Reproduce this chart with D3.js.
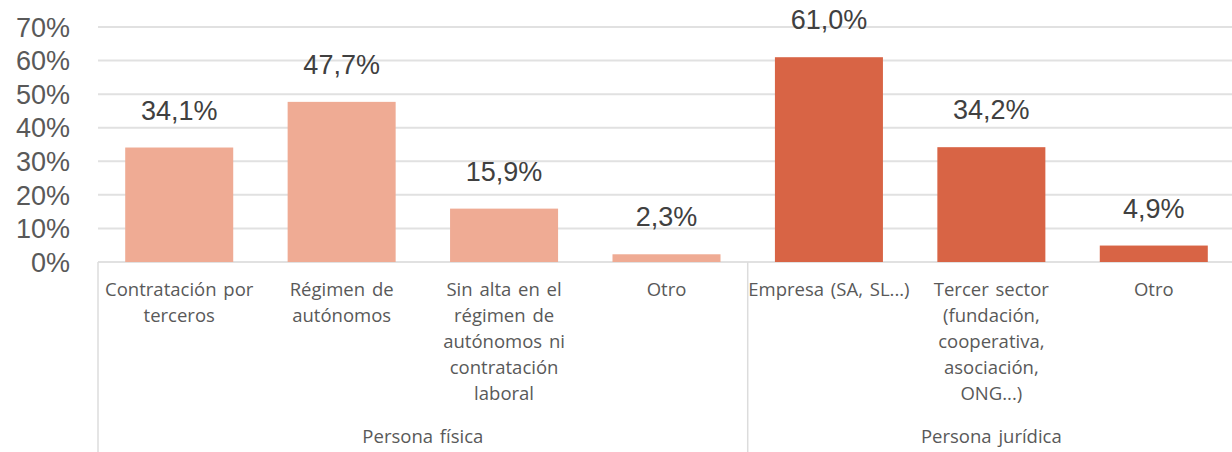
<!DOCTYPE html>
<html lang="es">
<head>
  <meta charset="UTF-8">
  <title>Persona física / Persona jurídica</title>
  <script src="https://d3js.org/d3.v7.min.js"></script>
  <style>
    body { margin: 0; background: #fff; }
    .ytick { font-family: "Liberation Sans", Arial, sans-serif; font-size: 27px; fill: #595959; }
    .value { font-family: "Liberation Sans", Arial, sans-serif; font-size: 27px; fill: #404040; text-anchor: middle; }
    .cat { font-family: "Open Sans", sans-serif; font-size: 18.5px; fill: #595959; text-anchor: middle; word-spacing: 2px; }
  </style>
</head>
<body>
  <div id="chart"></div>
  <script>
    // datos
    const categories = [
      ["Contratación por", "terceros"],
      ["Régimen de", "autónomos"],
      ["Sin alta en el", "régimen de", "autónomos ni", "contratación", "laboral"],
      ["Otro"],
      ["Empresa (SA, SL...)"],
      ["Tercer sector", "(fundación,", "cooperativa,", "asociación,", "ONG...)"],
      ["Otro"]
    ];
    const values = [34.1, 47.7, 15.9, 2.3, 61.0, 34.2, 4.9];
    const groupOf = [0, 0, 0, 0, 1, 1, 1];
    const groups = ["Persona física", "Persona jurídica"];
    const groupColors = ["#EFAB94", "#D86445"];
    const yTicks = [0, 10, 20, 30, 40, 50, 60, 70];

    const W = 1232, H = 452;
    const plotLeft = 98, plotRight = 1235, plotTop = 27, plotBottom = 262;

    const svg = d3.select("#chart").append("svg")
      .attr("width", W).attr("height", H);

    const x = d3.scaleBand()
      .domain(d3.range(categories.length))
      .range([plotLeft, plotRight])
      .paddingInner(0.335)
      .paddingOuter(0.1675);

    const y = d3.scaleLinear().domain([0, 70]).range([plotBottom, plotTop]);

    // gridlines
    svg.append("g").selectAll("line").data(yTicks).enter().append("line")
      .attr("x1", plotLeft).attr("x2", plotRight)
      .attr("y1", d => y(d)).attr("y2", d => y(d))
      .attr("stroke", "#e1e1e1").attr("stroke-width", 2);

    // y axis labels
    svg.append("g").selectAll("text").data(yTicks).enter().append("text")
      .attr("class", "ytick")
      .attr("x", 70).attr("y", d => y(d))
      .attr("dy", "0.36em")
      .attr("text-anchor", "end")
      .text(d => d + "%");

    // bars
    svg.append("g").selectAll("rect").data(values).enter().append("rect")
      .attr("x", (d, i) => x(i))
      .attr("width", x.bandwidth())
      .attr("y", d => y(d))
      .attr("height", d => y(0) - y(d))
      .attr("fill", (d, i) => groupColors[groupOf[i]]);

    // value labels
    svg.append("g").selectAll("text").data(values).enter().append("text")
      .attr("class", "value")
      .attr("x", (d, i) => x(i) + x.bandwidth() / 2)
      .attr("y", d => y(d) - 28)
      .text(d => d3.format(".1f")(d).replace(".", ",") + "%");

    // category axis: group separators
    const step = x.step();
    const bounds = [0, 4, 7].map(k => plotLeft + k * step);
    svg.append("g").selectAll("line").data(bounds).enter().append("line")
      .attr("x1", d => d).attr("x2", d => d)
      .attr("y1", plotBottom).attr("y2", H)
      .attr("stroke", "#dcdcdc").attr("stroke-width", 1.5);

    // category labels
    const cat = svg.append("g").selectAll("text").data(categories).enter().append("text")
      .attr("class", "cat")
      .attr("x", (d, i) => x(i) + x.bandwidth() / 2)
      .attr("y", 296);
    cat.selectAll("tspan").data(d => d).enter().append("tspan")
      .attr("x", function() { return d3.select(this.parentNode).attr("x"); })
      .attr("dy", (d, j) => j === 0 ? 0 : 26)
      .text(d => d);

    // group labels
    svg.append("g").selectAll("text").data(groups).enter().append("text")
      .attr("class", "cat")
      .attr("x", (d, g) => (bounds[g] + bounds[g + 1]) / 2)
      .attr("y", 443)
      .text(d => d);
  </script>
</body>
</html>
